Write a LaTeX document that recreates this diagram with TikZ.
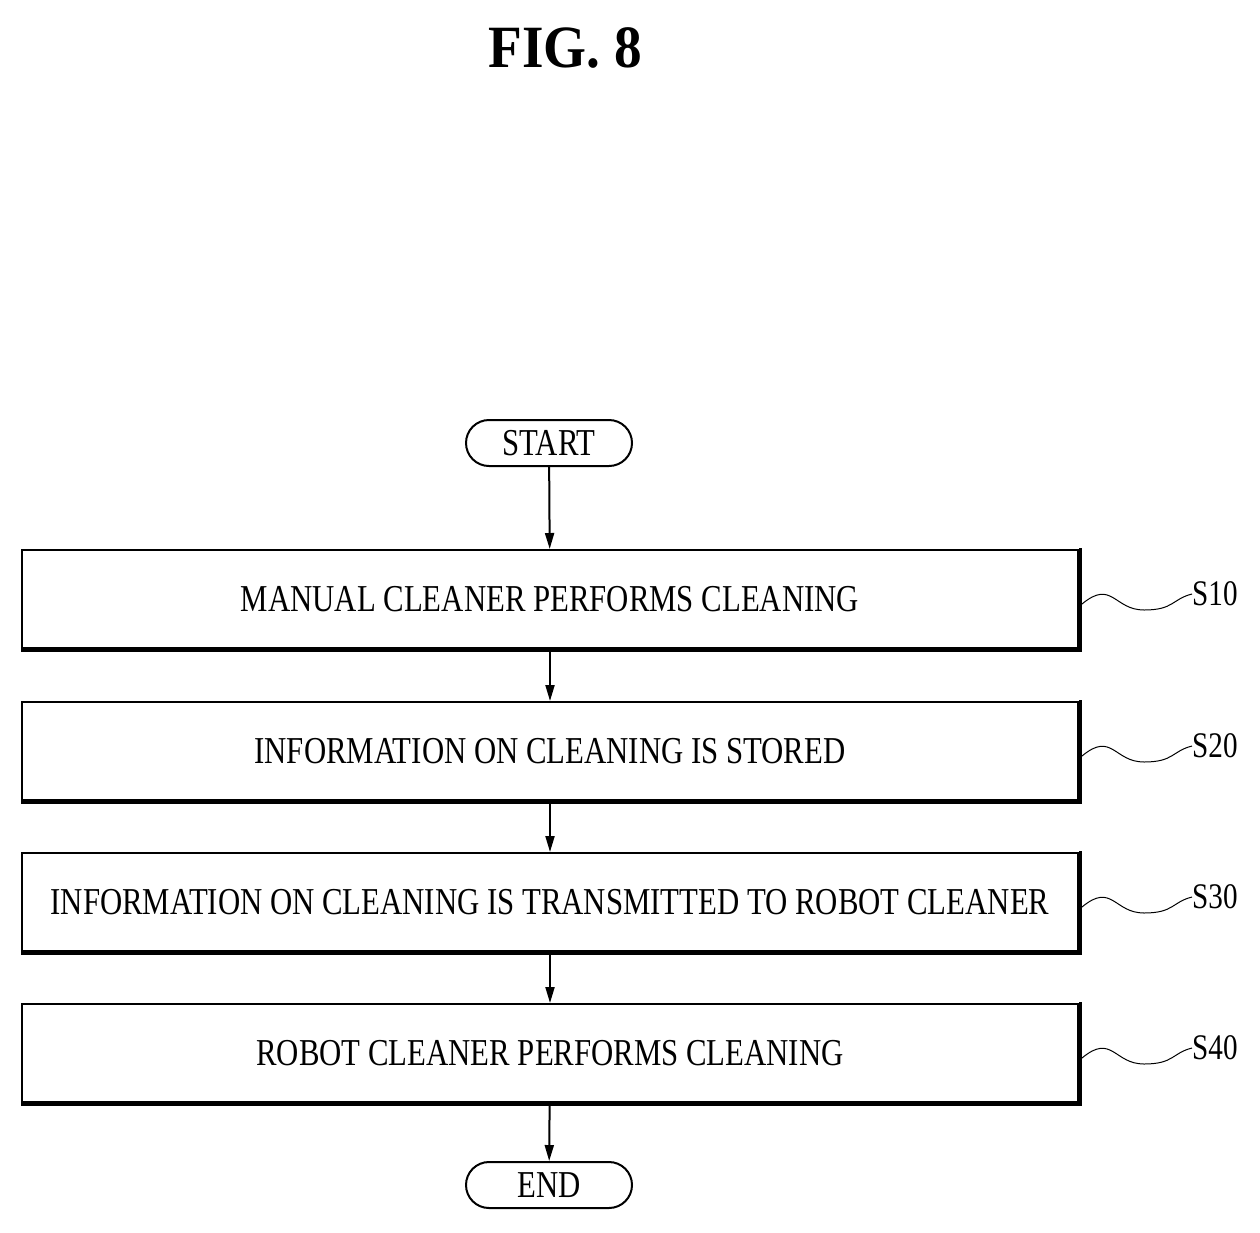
\documentclass[tikz,border=0pt]{standalone}
\usepackage{fontspec}
\setmainfont{Liberation Serif}[FakeStretch=0.81]
\newfontfamily\figfont{Liberation Serif}[FakeStretch=0.92]
\usetikzlibrary{arrows.meta}
\begin{document}
\begin{tikzpicture}[x=1pt,y=-1pt,
 box/.style={draw,line width=2pt,minimum width=1056pt,minimum height=98pt,font=\fontsize{38}{40}\selectfont,inner sep=0pt},
 term/.style={draw,line width=2pt,rounded corners=23pt,minimum width=166pt,minimum height=46pt,font=\fontsize{38}{40}\selectfont},
 arr/.style={line width=2pt,-{Triangle[length=16pt,width=9pt]}},
 lab/.style={font=\fontsize{36}{38}\selectfont,anchor=west,inner sep=0pt}]
\useasboundingbox (0,0) rectangle (1260,1232);
\node[font=\figfont\bfseries\fontsize{60}{62}\selectfont] (fig) at (565,48) {FIG.\ 8};
\node[term] (st) at (549,443) {START};
\node[term] (en) at (549,1185) {END};
\foreach \n/\y/\t in {1/599/MANUAL CLEANER PERFORMS CLEANING,2/751/INFORMATION ON CLEANING IS STORED,3/902/INFORMATION ON CLEANING IS TRANSMITTED TO ROBOT CLEANER,4/1053/ROBOT CLEANER PERFORMS CLEANING}{
 \node[box] (b\n) at (550,\y) {\t};
 \draw[line width=3pt] ([xshift=1.5pt,yshift=1pt]b\n.north east) -- ([xshift=1.5pt,yshift=-1.5pt]b\n.south east) -- ([yshift=-1.5pt]b\n.south west);
 \node[lab] (s\n) at (1192,{\y-5}) {S\n0};
 \draw[line width=1pt] ([xshift=3pt,yshift=-5pt]b\n.east) .. controls +(30,-25) and +(-30,0) .. ++(62,6) coordinate (m\n) .. controls +(30,0) and +(-20,5) .. (s\n.west);
}
\draw[arr] (st) -- (b1);
\draw[arr] (b1) -- (b2);
\draw[arr] (b2) -- (b3);
\draw[arr] (b3) -- (b4);
\draw[arr] (b4) -- (en);
\end{tikzpicture}
\end{document}
